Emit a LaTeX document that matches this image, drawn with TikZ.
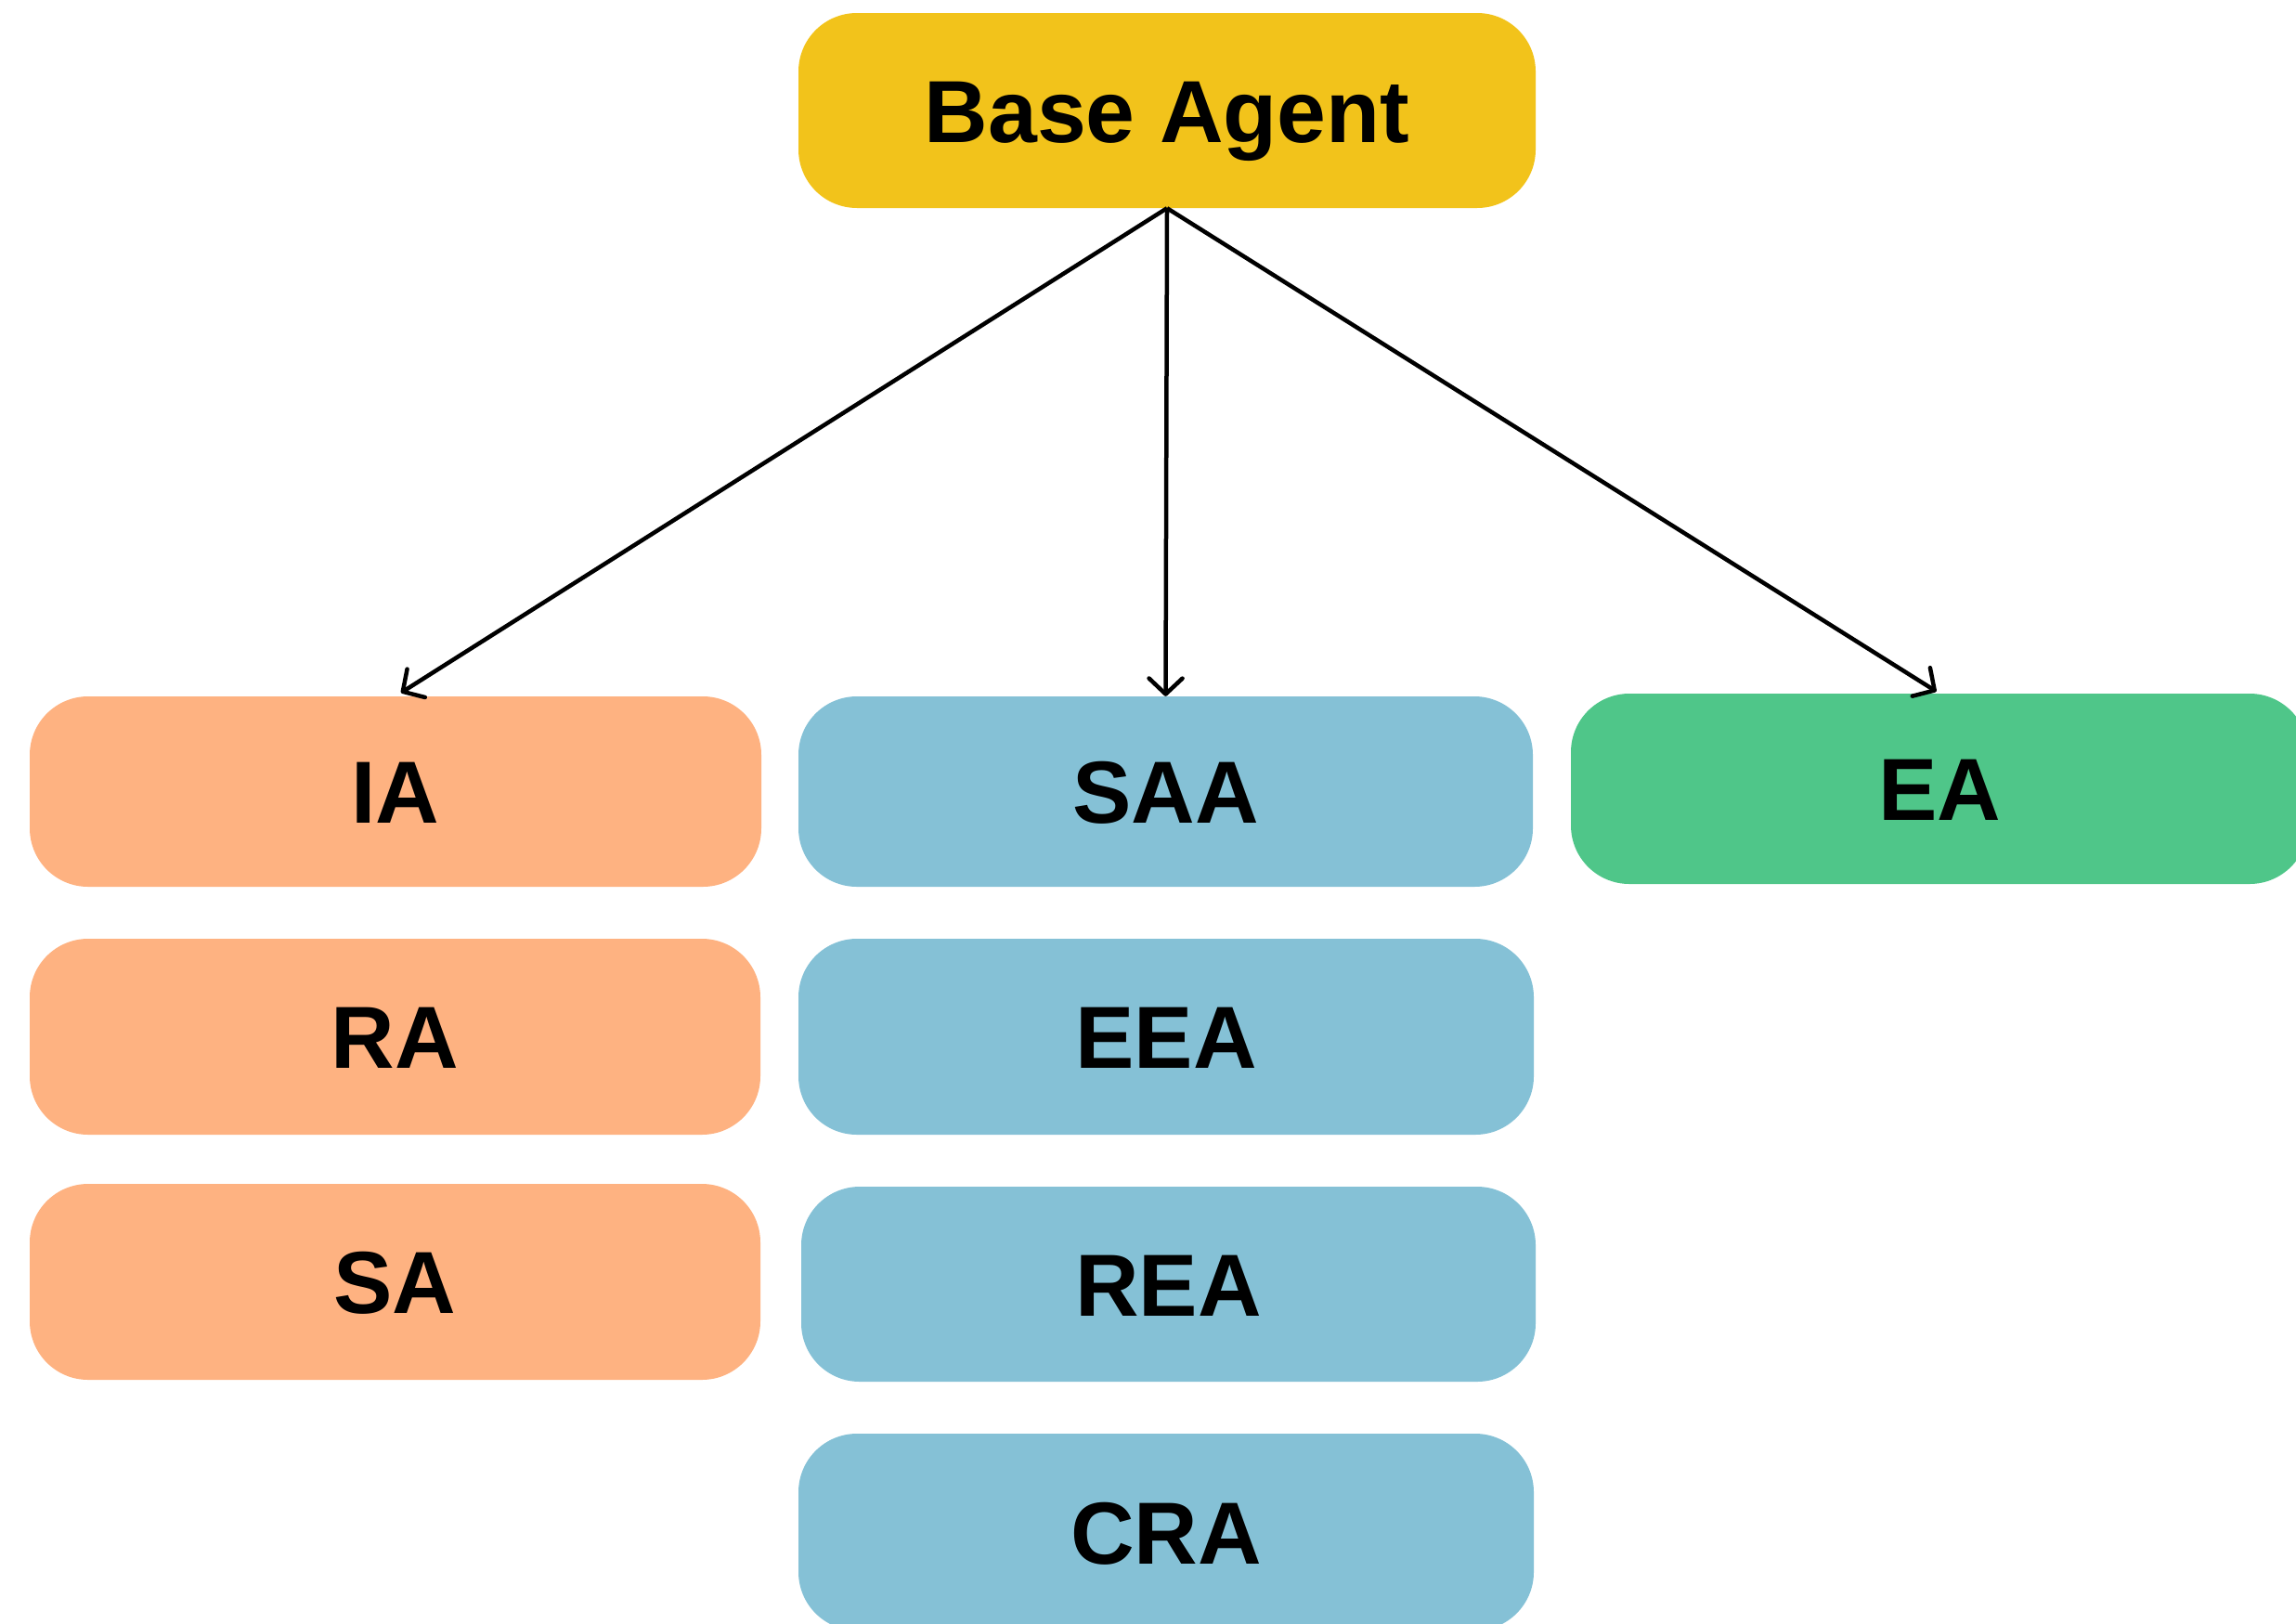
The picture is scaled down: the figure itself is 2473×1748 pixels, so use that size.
\documentclass[tikz,border=0pt]{standalone}
\usepackage{fontspec}
\setmainfont{Liberation Sans}
\usetikzlibrary{arrows.meta}

\definecolor{baseyellow}{HTML}{F2C31B}
\definecolor{agentorange}{HTML}{FEB281}
\definecolor{agentblue}{HTML}{85C1D6}
\definecolor{agentgreen}{HTML}{4FC689}

\begin{document}
\begin{tikzpicture}[x=1pt, y=-1pt,
  agentbox/.style={rounded corners=63pt, inner sep=0pt,
    text height=68pt, text depth=0pt,
    font=\fontsize{95}{100}\selectfont\bfseries},
  link/.style={line width=4.5pt, draw=black,
    -{Straight Barb[length=17pt, width=36pt, round]}}]

\useasboundingbox (0,0) rectangle (2473,1748);
\clip (0,0) rectangle (2473,1748);

% root
\node[agentbox, fill=baseyellow, minimum width=794pt, minimum height=210pt] (base) at (1257,119) {Base Agent};

% left column
\node[agentbox, fill=agentorange, minimum width=788pt, minimum height=205pt] (ia) at (426,852.5) {IA};
\node[agentbox, fill=agentorange, minimum width=787pt, minimum height=211pt] (ra) at (425.5,1116.5) {RA};
\node[agentbox, fill=agentorange, minimum width=787pt, minimum height=211pt] (sa) at (425.5,1380.5) {SA};

% middle column
\node[agentbox, fill=agentblue, minimum width=791pt, minimum height=205pt] (saa) at (1255.5,852.5) {SAA};
\node[agentbox, fill=agentblue, minimum width=792pt, minimum height=211pt] (eea) at (1256,1116.5) {EEA};
\node[agentbox, fill=agentblue, minimum width=791pt, minimum height=210pt] (rea) at (1258.5,1383) {REA};
\node[agentbox, fill=agentblue, minimum width=792pt, minimum height=212pt] (cra) at (1256,1650) {CRA};

% right column
\node[agentbox, fill=agentgreen, minimum width=794pt, minimum height=205pt] (ea) at (2089,849.5) {EA};

% inheritance links
\draw[link, shorten >=7pt] (base.south) -- (ia.north);
\draw[link] (base.south) -- (saa.north);
\draw[link, shorten >=4pt] (base.south) -- (ea.north);
\end{tikzpicture}
\end{document}
